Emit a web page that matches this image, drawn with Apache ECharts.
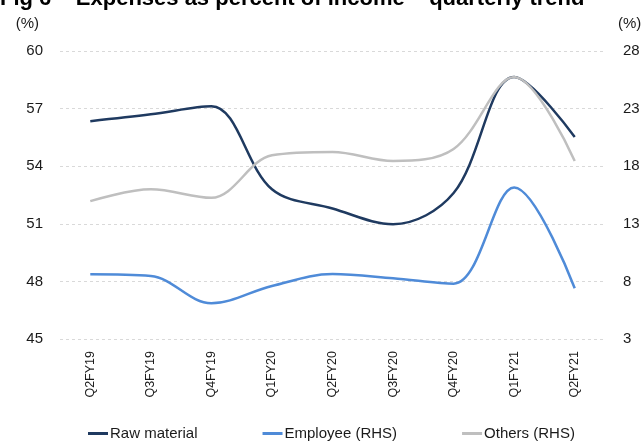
<!DOCTYPE html>
<html>
<head>
<meta charset="utf-8">
<script src="https://cdn.jsdelivr.net/npm/echarts@6/dist/echarts.min.js"></script>
<style>
  html, body { margin: 0; padding: 0; background: #fff; }
  #chart { width: 643px; height: 448px; }
</style>
</head>
<body>
<div id="chart"></div>
<script>
// Quarterly expense ratios, % of income
const quarters = ['Q2FY19', 'Q3FY19', 'Q4FY19', 'Q1FY20', 'Q2FY20', 'Q3FY20', 'Q4FY20', 'Q1FY21', 'Q2FY21'];
const rawMaterial = [56.34, 56.7, 57.12, 52.8, 51.8, 50.98, 52.6, 58.64, 55.52];
const employee = [8.62, 8.47, 6.1, 7.6, 8.64, 8.27, 7.8, 16.15, 7.4];
const others = [14.97, 16.0, 15.26, 18.95, 19.24, 18.46, 19.5, 25.74, 18.46];

const leftTicks = { min: 45, max: 60, interval: 3 };
const rightTicks = { min: 3, max: 28, interval: 5 };

const FONT = '"Liberation Sans", Arial, sans-serif';
const TXT = '#1a1a1a';

const chart = echarts.init(document.getElementById('chart'));

const gridLine = { show: true, lineStyle: { color: '#d9d9d9', type: [3, 3], width: 1 } };

chart.setOption({
  animation: false,
  graphic: [{
    type: 'text',
    left: 0,
    top: -12,
    style: {
      text: 'Fig 6 – Expenses as percent of income – quarterly trend',
      font: 'bold 22px "Liberation Sans", Arial, sans-serif',
      fill: '#000'
    }
  }],
  grid: { left: 60, right: 38, top: 51, bottom: 109, outerBoundsMode: 'none', containLabel: false },
  legend: {
    bottom: 2,
    left: 83,
    itemGap: 65,
    itemWidth: 20,
    itemHeight: 3,
    icon: 'rect',
    textStyle: { fontFamily: FONT, fontSize: 15, color: TXT, padding: [0, 0, 0, -3] },
    data: ['Raw material', 'Employee (RHS)', 'Others (RHS)']
  },
  xAxis: {
    type: 'category',
    data: quarters,
    boundaryGap: true,
    axisLine: { show: false },
    axisTick: { show: false },
    axisLabel: { rotate: 90, margin: 12, fontFamily: FONT, fontSize: 12.5, color: TXT }
  },
  yAxis: [
    {
      type: 'value',
      min: leftTicks.min, max: leftTicks.max, interval: leftTicks.interval,
      name: '(%)',
      nameLocation: 'end',
      nameGap: 20,
      nameTextStyle: { fontFamily: FONT, fontSize: 15, color: TXT, align: 'right', padding: [0, 21, 0, 0] },
      axisLine: { show: false },
      axisTick: { show: false },
      axisLabel: { margin: 17, fontFamily: FONT, fontSize: 15, color: TXT },
      splitLine: gridLine
    },
    {
      type: 'value',
      min: rightTicks.min, max: rightTicks.max, interval: rightTicks.interval,
      name: '(%)',
      nameLocation: 'end',
      nameGap: 20,
      nameTextStyle: { fontFamily: FONT, fontSize: 15, color: TXT, align: 'left', padding: [0, 0, 0, 13] },
      axisLine: { show: false },
      axisTick: { show: false },
      axisLabel: { margin: 18, fontFamily: FONT, fontSize: 15, color: TXT },
      splitLine: { show: false }
    }
  ],
  series: [
    {
      name: 'Raw material', type: 'line', yAxisIndex: 0, data: rawMaterial,
      smooth: 0.35, symbol: 'none',
      lineStyle: { color: '#1f3a60', width: 2.5 }, itemStyle: { color: '#1f3a60' }
    },
    {
      name: 'Employee (RHS)', type: 'line', yAxisIndex: 1, data: employee,
      smooth: 0.35, symbol: 'none',
      lineStyle: { color: '#4f8bd8', width: 2.5 }, itemStyle: { color: '#4f8bd8' }
    },
    {
      name: 'Others (RHS)', type: 'line', yAxisIndex: 1, data: others,
      smooth: 0.35, symbol: 'none',
      lineStyle: { color: '#bfbfbf', width: 2.5 }, itemStyle: { color: '#bfbfbf' }
    }
  ]
});
</script>
</body>
</html>
